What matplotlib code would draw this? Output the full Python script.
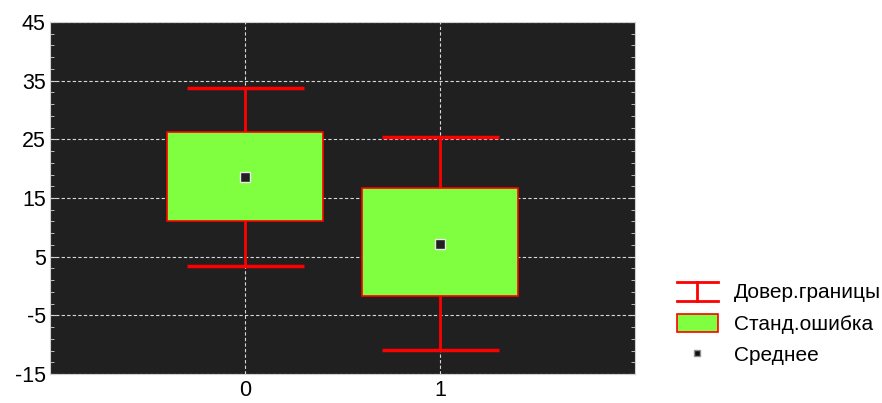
import matplotlib.pyplot as plt
import numpy as np
from matplotlib.lines import Line2D
from matplotlib.patches import Patch
from matplotlib.legend_handler import HandlerBase
from matplotlib.ticker import MultipleLocator

# values
groups = [0, 1]
means = [18.6, 7.2]
se_low = [11.1, -1.7]
se_high = [26.3, 16.7]
ci_low = [3.4, -10.9]
ci_high = [33.8, 25.4]
labels = ["Довер.границы", "Станд.ошибка", "Среднее"]

plt.rcParams['font.family'] = ['Liberation Sans', 'DejaVu Sans']
plt.rcParams['axes.unicode_minus'] = False

BG = '#202020'
GREEN = '#80ff40'
RED = '#ff0000'
LIGHT = '#d0d0d0'


class WhiskerHandler(HandlerBase):
    def create_artists(self, legend, orig, xd, yd, w, h, fs, trans):
        x0, x1 = -xd, -xd + w
        xm = (x0 + x1) / 2
        y0, y1 = -yd - 0.05 * h, -yd + 1.0 * h
        lines = [Line2D([x0, x1], [y0, y0]), Line2D([x0, x1], [y1, y1]),
                 Line2D([xm, xm], [y0, y1])]
        for ln in lines:
            ln.set_color(RED)
            ln.set_linewidth(2)
            ln.set_transform(trans)
        return lines


fig = plt.figure(figsize=(8.82, 4.03), dpi=100)
ax = fig.add_axes([50 / 882, 1 - 374 / 403, 585 / 882, 352 / 403])
ax.set_facecolor(BG)

x = np.array(groups)
# whiskers (confidence limits)
ax.vlines(x, ci_low, ci_high, color=RED, lw=2, zorder=2)
ax.hlines(ci_low, x - 0.3, x + 0.3, color=RED, lw=2.5, zorder=2)
ax.hlines(ci_high, x - 0.3, x + 0.3, color=RED, lw=2.5, zorder=2)
# boxes (standard error)
ax.bar(x, np.array(se_high) - np.array(se_low), bottom=se_low, width=0.8,
       color=GREEN, edgecolor=RED, linewidth=1.2, zorder=3)
# means
ax.plot(x, means, 's', ms=7, mfc=BG, mec='#e8e8e8', mew=1, zorder=4)

ax.set_xlim(-1, 2)
ax.set_ylim(-15, 45)
ax.set_xticks(groups)
ax.set_xticklabels([str(g) for g in groups])
ax.set_yticks(np.arange(-15, 46, 10))
ax.yaxis.set_minor_locator(MultipleLocator(2, offset=1))
ax.tick_params(axis='x', length=0, labelsize=15.5, pad=4)
ax.tick_params(axis='y', which='both', direction='in', color=LIGHT, right=True,
               labelsize=15.5, pad=3)
ax.tick_params(axis='y', which='major', length=4)
ax.tick_params(axis='y', which='minor', length=3)

ax.grid(True, which='major', color='#d8d8d8', linestyle=(0, (3, 2)), lw=0.8, zorder=1)
ax.set_axisbelow(True)
for sp in ax.spines.values():
    sp.set_color(LIGHT)

handles = [
    Line2D([], []),
    Patch(facecolor=GREEN, edgecolor=RED, linewidth=1.2),
    Line2D([], [], marker='s', ls='none', ms=5, mfc='#101010', mec='#909090'),
]
fig.legend(handles, labels, loc='upper left', bbox_to_anchor=(677 / 882, 1 - 282 / 403),
           frameon=False, fontsize=15, handlelength=1.95, handleheight=0.95,
           handletextpad=0.8, labelspacing=0.55, borderpad=0, borderaxespad=0,
           handler_map={handles[0]: WhiskerHandler()})

fig.savefig('out.png', dpi=100)
